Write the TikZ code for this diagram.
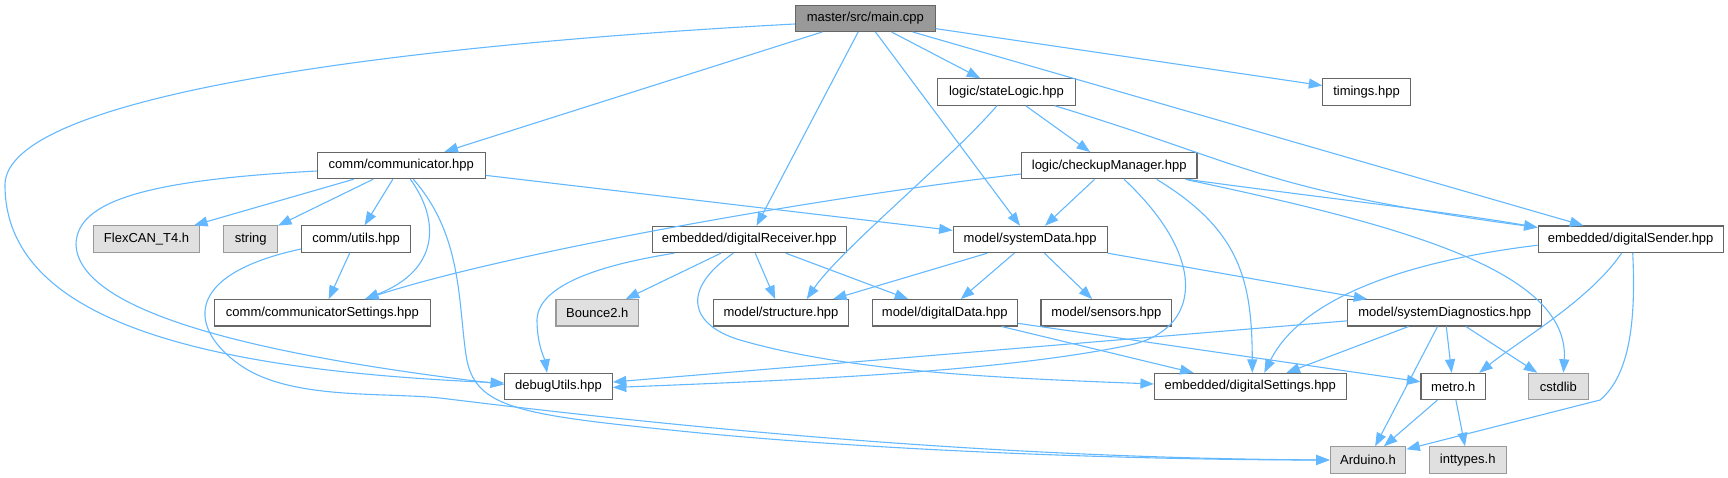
\documentclass[tikz,border=0pt]{standalone}
\usepackage{fontspec}
\setmainfont{Liberation Sans}
\usetikzlibrary{arrows.meta}
\definecolor{edgec}{HTML}{63B8FF}
\definecolor{bordc}{HTML}{666666}
\definecolor{extfill}{HTML}{E0E0E0}
\definecolor{extbord}{HTML}{999999}
\definecolor{mainfill}{HTML}{999999}
\begin{document}
\begin{tikzpicture}[x=1pt,y=-1pt,
 box/.style={draw=bordc, line width=1.1pt, fill=white, minimum height=26.3pt, inner sep=0pt, font=\fontsize{13}{15}\selectfont, text=black},
 ext/.style={box, draw=extbord, fill=extfill},
 mainbox/.style={box, fill=mainfill},
 edge/.style={draw=edgec, line width=1.1pt, -{Triangle[length=13.5pt,width=10pt]}}
]
\useasboundingbox (0,0) rectangle (1728,478);
% nodes
\node[mainbox, minimum width=139.7pt] (main) at (865.3,18.3) {master/src/main.cpp};
\node[box, minimum width=137.4pt] (stateL) at (1006.5,92) {logic/stateLogic.hpp};
\node[box, minimum width=87.3pt] (timings) at (1366.5,92) {timings.hpp};
\node[box, minimum width=175.5pt] (checkup) at (1109.2,165.7) {logic/checkupManager.hpp};
\node[box, minimum width=168pt] (comm) at (401.3,165.5) {comm/communicator.hpp};
\node[box, minimum width=185pt] (sender) at (1630.7,239.2) {embedded/digitalSender.hpp};
\node[ext, minimum width=105.6pt] (flex) at (146.6,239) {FlexCAN\_T4.h};
\node[ext, minimum width=53.6pt] (string) at (250.7,239) {string};
\node[box, minimum width=109pt] (utils) at (356.1,239) {comm/utils.hpp};
\node[box, minimum width=194pt] (recv) at (749.3,239.5) {embedded/digitalReceiver.hpp};
\node[box, minimum width=154pt] (sysdata) at (1030.2,239.5) {model/systemData.hpp};
\node[box, minimum width=215.5pt] (cset) at (322.4,312.8) {comm/communicatorSettings.hpp};
\node[ext, minimum width=82.7pt] (bounce) at (597.3,312.8) {Bounce2.h};
\node[box, minimum width=135.2pt] (struct) at (781,312.8) {model/structure.hpp};
\node[box, minimum width=145pt] (ddata) at (944.8,312.8) {model/digitalData.hpp};
\node[box, minimum width=130.8pt] (sensors) at (1106.4,312.8) {model/sensors.hpp};
\node[box, minimum width=193.6pt] (sysdiag) at (1444.7,312.8) {model/systemDiagnostics.hpp};
\node[box, minimum width=107.6pt] (dbg) at (558.5,386.5) {debugUtils.hpp};
\node[box, minimum width=191.7pt] (dset) at (1250.3,386.5) {embedded/digitalSettings.hpp};
\node[box, minimum width=64.5pt] (metro) at (1453.2,386.5) {metro.h};
\node[ext, minimum width=59.7pt] (cstd) at (1558.4,386.5) {cstdlib};
\node[ext, minimum width=75.6pt] (ard) at (1368,460) {Arduino.h};
\node[ext, minimum width=76.7pt] (intt) at (1467.7,460) {inttypes.h};
% edges from main
\draw[edge] ([yshift=-5.7pt]main.west) .. controls (400,45) and (5,95) .. (5,185) .. controls (5,320) and (200,370) .. ([yshift=3.5pt]dbg.west);
\draw[edge] (main) -- (comm);
\draw[edge] (main) -- (recv);
\draw[edge] (main) -- (sysdata);
\draw[edge] (main) -- (stateL);
\draw[edge] (main) -- (sender);
\draw[edge] (main) -- (timings);
% stateLogic
\draw[edge] ([xshift=-9.5pt]stateL.south) .. controls (950,160) and (840,250) .. ([xshift=25.7pt]struct.north);
\draw[edge] (stateL) -- (checkup);
\draw[edge] ([xshift=48pt]stateL.south) .. controls (1250,165) and (1260,190) .. ([yshift=-2pt]sender.north west);
% checkupManager
\draw[edge] ([yshift=-8.3pt]checkup.west) .. controls (800,200) and (500,255) .. ([xshift=42.6pt]cset.north);
\draw[edge] (checkup) -- (sysdata);
\draw[edge] ([xshift=15pt]checkup.south) .. controls (1210,260) and (1200,330) .. (1130,345) .. controls (1000,372) and (800,380) .. ([yshift=-1pt]dbg.east);
\draw[edge] ([xshift=47.5pt]checkup.south) .. controls (1240,230) and (1252,280) .. ([xshift=2pt]dset.north);
\draw[edge] ([xshift=-10pt]checkup.south east) .. controls (1300,195) and (1450,212) .. ([yshift=-2pt]sender.north west);
\draw[edge] ([xshift=-12pt]checkup.south east) .. controls (1400,225) and (1570,270) .. ([xshift=5pt]cstd.north);
% communicator
\draw[edge] (comm) -- (flex);
\draw[edge] (comm) -- (string);
\draw[edge] (comm) -- (utils);
\draw[edge] ([xshift=9pt]comm.south) .. controls (440,220) and (440,270) .. ([xshift=42.6pt]cset.north);
\draw[edge] ([yshift=-5.5pt]comm.west) .. controls (150,180) and (76,200) .. (76,245) .. controls (80,320) and (300,360) .. ([yshift=2pt]dbg.west);
\draw[edge] ([xshift=12pt]comm.south) .. controls (462,235) and (458,300) .. (466,355) .. controls (474,410) and (520,415) .. (700,433) .. controls (900,452) and (1150,460) .. (ard.west);
\draw[edge] (comm) -- (sysdata);
% utils
\draw[edge] (utils) -- (cset);
\draw[edge] ([yshift=-10pt]utils.west) .. controls (180,275) and (190,330) .. (240,365) .. controls (290,400) and (380,392) .. (440,398) .. controls (700,430) and (1000,458) .. (ard.west);
% digitalReceiver
\draw[edge] ([xshift=-75pt]recv.south) .. controls (600,265) and (538,285) .. (537,320) .. controls (537,345) and (545,360) .. ([xshift=-11.5pt]dbg.north);
\draw[edge] (recv) -- (bounce);
\draw[edge] (recv) -- (struct);
\draw[edge] (recv) -- (ddata);
\draw[edge] ([xshift=-16pt]recv.south) .. controls (680,290) and (690,325) .. (740,340) .. controls (850,372) and (1000,378) .. ([yshift=2.5pt]dset.west);
% systemData
\draw[edge] ([xshift=-43pt]sysdata.south) -- ([xshift=52pt]struct.north);
\draw[edge] (sysdata) -- (ddata);
\draw[edge] (sysdata) -- (sensors);
\draw[edge] (sysdata) -- (sysdiag);
% digitalData
\draw[edge] (ddata) -- (dset);
\draw[edge] (ddata) -- (metro);
% systemDiagnostics
\draw[edge] (sysdiag) -- (dbg);
\draw[edge] (sysdiag) -- (dset);
\draw[edge] (sysdiag) -- (ard);
\draw[edge] (sysdiag) -- (metro);
\draw[edge] (sysdiag) -- (cstd);
% digitalSender
\draw[edge] ([yshift=-6pt]sender.west) .. controls (1400,262) and (1300,300) .. ([xshift=14pt]dset.north);
\draw[edge] ([xshift=-9pt]sender.south) .. controls (1590,300) and (1520,340) .. ([xshift=26pt]metro.north);
\draw[edge] ([xshift=2pt]sender.south) .. controls (1636,320) and (1630,375) .. (1600,400) -- ([yshift=-3pt]ard.north east);
% metro
\draw[edge] (metro) -- (ard);
\draw[edge] (metro) -- (intt);
\end{tikzpicture}
\end{document}
